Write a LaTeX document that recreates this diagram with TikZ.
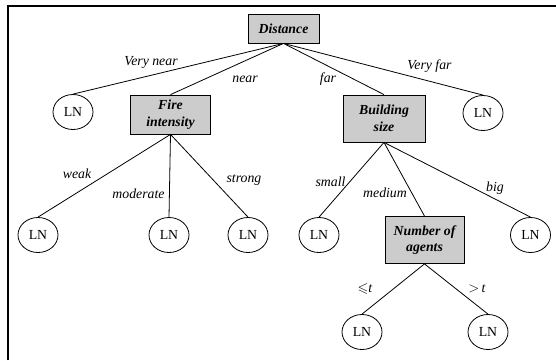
\documentclass[tikz,border=0pt]{standalone}
\usepackage{amssymb}
\usepackage{fontspec}
\setmainfont{Liberation Serif}
\usepackage{tikz}
\usetikzlibrary{
    shapes.geometric
}

\begin{document}
\begin{tikzpicture}[
    x=1pt, y=-1pt, line width=0.8pt,
    attribute/.style={draw, fill=black!20, align=center, inner sep=0pt,
        font=\fontsize{13.8}{16.5}\selectfont\bfseries\itshape},
    leaf/.style={draw, ellipse, minimum width=40pt, minimum height=35pt,
        inner sep=0pt, font=\fontsize{13.8}{16.5}\selectfont},
    value/.style={inner sep=0pt, font=\fontsize{13.8}{16.5}\selectfont\itshape}
]
    \useasboundingbox (0, 0) rectangle (556, 360);
    \draw[line width=2pt] (8, 360) -- (8, 6) -- (556, 6);

    \node[attribute, minimum width=71pt, minimum height=29pt] (distance) at (283.5, 28.5) {Distance};
    \node[attribute, minimum width=80pt, minimum height=39pt] (fire) at (170.5, 114.5) {Fire\\intensity};
    \node[attribute, minimum width=82pt, minimum height=47pt] (building) at (384, 118.5) {Building\\size};
    \node[attribute, minimum width=79pt, minimum height=47pt] (agents) at (424.5, 240) {Number of\\agents};

    \node[leaf] (lnverynear) at (73, 112) {LN};
    \node[leaf] (lnveryfar) at (483, 113) {LN};
    \node[leaf] (lnweak) at (38, 235) {LN};
    \node[leaf] (lnmoderate) at (169, 235) {LN};
    \node[leaf] (lnstrong) at (248, 235) {LN};
    \node[leaf] (lnsmall) at (319, 235) {LN};
    \node[leaf] (lnbig) at (530.5, 235) {LN};
    \node[leaf] (lnle) at (362, 332) {LN};
    \node[leaf] (lngt) at (488, 332) {LN};

    \draw
    (distance.south) edge (lnverynear.north) edge (fire.north)
        edge (building.north) edge (lnveryfar.north)
    (fire.south) edge (lnweak.north) edge (lnmoderate.north) edge (lnstrong.north)
    (building.south) edge (lnsmall.north) edge (agents.north) edge (lnbig.north)
    (agents.south) edge (lnle.north) edge (lngt.north);

    \node[value] (verynear) at (151, 62) {Very near};
    \node[value] (near) at (245, 79) {near};
    \node[value] (far) at (328, 79) {far};
    \node[value] (veryfar) at (429.5, 66) {Very far};
    \node[value] (weak) at (77, 174) {weak};
    \node[value] (moderate) at (138.5, 194) {moderate};
    \node[value] (strong) at (244, 180) {strong};
    \node[value] (small) at (330.5, 182) {small};
    \node[value] (medium) at (385, 193) {medium};
    \node[value] (big) at (495, 188) {big};
    \node[value] (le) at (365, 289) {$\leqslant$t};
    \node[value] (gt) at (477, 289) {$>$\,t};
\end{tikzpicture}
\end{document}
